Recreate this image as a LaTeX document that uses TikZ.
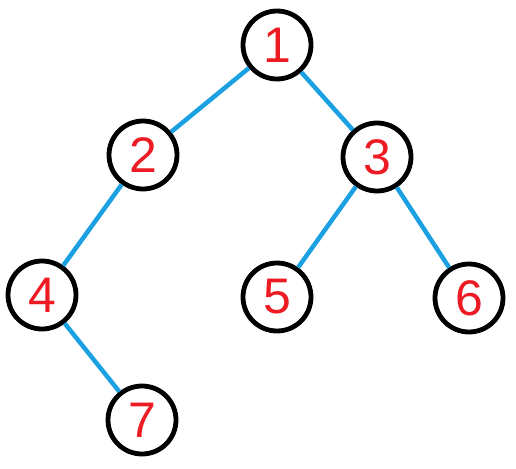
\documentclass[tikz,border=0pt]{standalone}
\usepackage{fontspec}
\setmainfont{Liberation Sans}
\usepackage{tikz}
\definecolor{edgeblue}{RGB}{27,161,226}
\definecolor{numred}{RGB}{237,28,36}
\tikzset{
	vertex/.style={circle, draw=black, line width=4.8pt, minimum size=68pt, inner sep=0pt,
		text=numred, font=\fontsize{50}{50}\selectfont},
	branch/.style={draw=edgeblue, line width=4.5pt}
}

\begin{document}
\begin{tikzpicture}[x=1pt, y=-1pt]
				\useasboundingbox (0,0) rectangle (516,468);
				
				\node[vertex] (n1) at (277,45) {1};
				\node[vertex] (n2) at (143,155) {2};
				\node[vertex] (n3) at (377,157) {3};
				\node[vertex] (n4) at (42,295) {4};
				\node[vertex] (n5) at (277,297) {5};
				\node[vertex] (n6) at (469,298) {6};
				\node[vertex] (n7) at (142,420) {7};
				
				\draw[branch] (n1) -- (n2);
				\draw[branch] (n1) -- (n3);
				\draw[branch] (n2) -- (n4);
				\draw[branch] (n3) -- (n5);
				\draw[branch] (n3) -- (n6);
				\draw[branch] (n4) -- (n7);
			\end{tikzpicture}
\end{document}
